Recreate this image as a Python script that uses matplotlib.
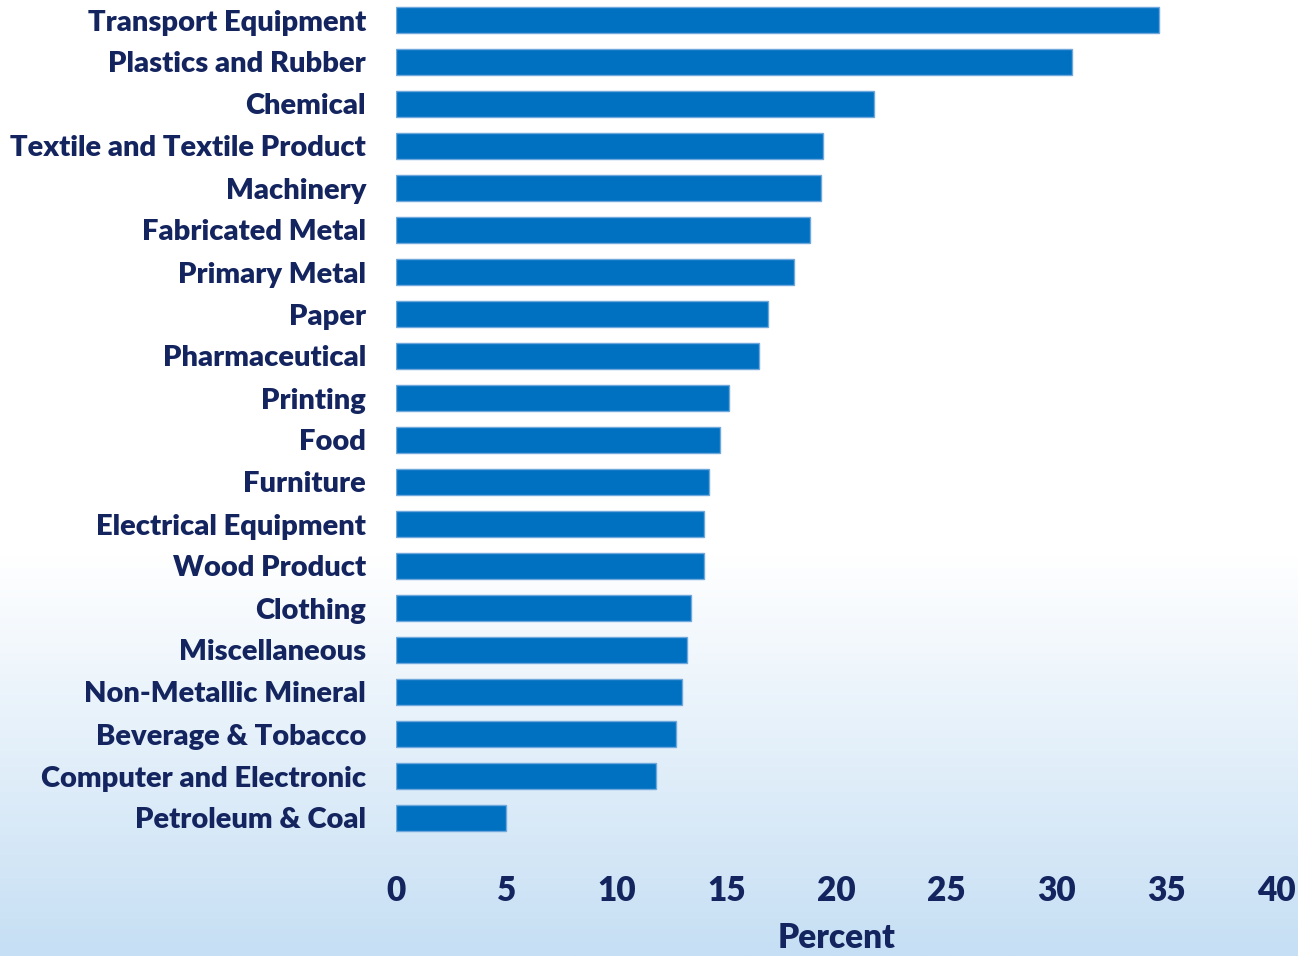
import numpy as np
import matplotlib
matplotlib.use("Agg")
import matplotlib.pyplot as plt
from matplotlib.colors import LinearSegmentedColormap

# Share of establishments by industry (percent)
industries = [
    "Transport Equipment", "Plastics and Rubber", "Chemical",
    "Textile and Textile Product", "Machinery", "Fabricated Metal",
    "Primary Metal", "Paper", "Pharmaceutical", "Printing", "Food",
    "Furniture", "Electrical Equipment", "Wood Product", "Clothing",
    "Miscellaneous", "Non-Metallic Mineral", "Beverage & Tobacco",
    "Computer and Electronic", "Petroleum & Coal",
]
percent = [34.7, 30.7, 21.7, 19.4, 19.3, 18.8, 18.1, 16.9, 16.5, 15.1,
           14.7, 14.2, 14.0, 14.0, 13.4, 13.2, 13.0, 12.7, 11.8, 5.0]
x_ticks = [0, 5, 10, 15, 20, 25, 30, 35, 40]

navy = "#13245f"
bar_color = "#0070c0"
edge_color = "#6fa8dc"
font = "Lato"
weight = 800

W, H = 1298, 956
fig = plt.figure(figsize=(W / 100, H / 100), dpi=100)

# Background: white fading to pale blue toward the bottom
bg = fig.add_axes([0, 0, 1, 1], zorder=0)
rows = np.linspace(0, 1, 400)
t = np.clip((rows - 0.58) / 0.42, 0, 1)
cmap = LinearSegmentedColormap.from_list("bg", ["#ffffff", "#c6dff4"])
bg.imshow(t[:, None], aspect="auto", cmap=cmap, vmin=0, vmax=1,
          extent=[0, 1, 1, 0], interpolation="bilinear")
bg.set_axis_off()

left, right = 396.5 / W, 1276 / W
bottom_px = 839
ax = fig.add_axes([left, 1 - bottom_px / H, right - left, bottom_px / H], zorder=1)
ax.patch.set_alpha(0)

y = np.arange(len(industries))
ax.barh(y, percent, height=0.62, color=bar_color, edgecolor=edge_color,
        linewidth=1.0)
ax.set_xlim(0, 40)
ax.set_ylim(len(industries) - 0.5, -20 / 42)

ax.set_yticks(y)
ax.set_yticklabels(industries, fontsize=21, fontweight=weight, color=navy,
                   family=font)
ax.set_xticks(x_ticks)
ax.set_xticklabels([str(v) for v in x_ticks], fontsize=24, fontweight=weight,
                   color=navy, family=font)
ax.tick_params(axis="y", length=0, pad=22)
ax.tick_params(axis="x", length=0, pad=26)
ax.set_xlabel("Percent", fontsize=24, fontweight=weight, color=navy,
              family=font, labelpad=11)
for s in ax.spines.values():
    s.set_visible(False)

fig.savefig("out.png", dpi=100)
